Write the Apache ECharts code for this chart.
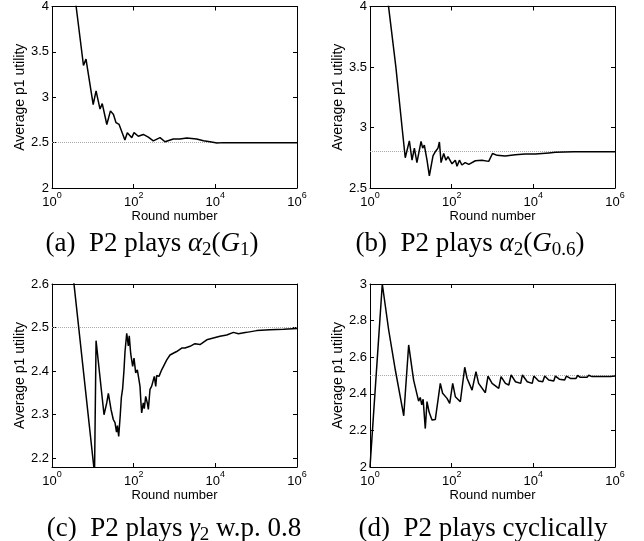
<!DOCTYPE html>
<html>
<head>
<meta charset="utf-8">
<script src="https://cdn.jsdelivr.net/npm/echarts@6/dist/echarts.min.js"></script>
<style>
  html, body { margin: 0; padding: 0; background: #fff; }
  #chart { width: 644px; height: 541px; }
</style>
</head>
<body>
<div id="chart"></div>
<script>
// (a) P2 plays alpha2(G1)
var roundsA = [2, 3, 3.9, 5.9, 6.8, 10.2, 12, 15, 17, 22, 27, 32, 37, 44, 48, 61, 70, 90, 102, 130, 172, 228, 303, 442, 586, 933, 1350, 2000, 3470, 5130, 7400, 11000, 15500, 30000, 100000, 1000000];
var utilA = [5.2, 4.4, 4.0, 3.35, 3.42, 2.92, 3.07, 2.87, 2.93, 2.70, 2.85, 2.81, 2.72, 2.70, 2.72, 2.53, 2.61, 2.555, 2.61, 2.57, 2.59, 2.56, 2.52, 2.555, 2.51, 2.54, 2.54, 2.55, 2.54, 2.52, 2.51, 2.495, 2.50, 2.50, 2.50, 2.50];
// (b) P2 plays alpha2(G0.6)
var roundsB = [2, 2.8, 4.3, 6.1, 7.3, 9.2, 10.7, 12.2, 14.1, 17.8, 19.5, 21.4, 24.9, 28.4, 34.9, 39.8, 46.2, 50.1, 55, 63.8, 72.4, 81.3, 102, 123, 135, 155, 178, 214, 263, 380, 550, 807, 1000, 1300, 2040, 3630, 6310, 11200, 24000, 34700, 100000, 1000000];
var utilB = [4.6, 4.02, 3.5, 3.0, 2.75, 2.89, 2.73, 2.83, 2.71, 2.885, 2.83, 2.855, 2.73, 2.60, 2.765, 2.80, 2.83, 2.88, 2.71, 2.785, 2.73, 2.76, 2.70, 2.73, 2.68, 2.73, 2.69, 2.71, 2.695, 2.725, 2.73, 2.72, 2.785, 2.77, 2.765, 2.775, 2.78, 2.78, 2.79, 2.795, 2.80, 2.80];
// (c) P2 plays gamma2 w.p. 0.8
var roundsC = [3, 11, 12, 18.8, 21.9, 24, 27.9, 31.7, 34.9, 38, 40, 43, 47, 50, 53.7, 58, 61.4, 67.6, 74, 78, 84.6, 94.6, 102, 112, 123, 135, 143, 151, 157, 172, 182, 197, 216, 229, 251, 275, 320, 347, 366, 417, 486, 646, 776, 933, 1130, 1500, 1810, 2400, 3170, 4220, 6170, 8930, 13000, 19000, 27800, 36700, 58500, 103000, 219000, 468000, 1000000];
var utilC = [2.653, 2.165, 2.47, 2.30, 2.327, 2.349, 2.312, 2.289, 2.282, 2.26, 2.275, 2.25, 2.30, 2.34, 2.36, 2.403, 2.445, 2.487, 2.458, 2.481, 2.44, 2.411, 2.43, 2.396, 2.403, 2.38, 2.365, 2.327, 2.304, 2.327, 2.314, 2.342, 2.327, 2.312, 2.358, 2.365, 2.388, 2.365, 2.39, 2.388, 2.403, 2.426, 2.437, 2.441, 2.445, 2.453, 2.453, 2.457, 2.463, 2.461, 2.472, 2.476, 2.48, 2.483, 2.489, 2.486, 2.489, 2.493, 2.495, 2.496, 2.498];
// (d) P2 plays cyclically
var roundsD = [1, 2, 2.86, 4.17, 5.5, 6.7, 8.85, 11.7, 15.5, 17, 18.5, 20, 22.6, 24.9, 28, 33, 39.8, 52.7, 60, 77, 89.5, 106, 123, 163, 180, 209, 238, 316, 347, 394, 457, 667, 776, 977, 1420, 1620, 2070, 2510, 2860, 3650, 4900, 5400, 7100, 9400, 10300, 13500, 17000, 19000, 23800, 31600, 34700, 43300, 58500, 64500, 81000, 111000, 122000, 141000, 207000, 227000, 274000, 400000, 445000, 540000, 780000, 850000, 1000000];
var utilD = [2.0, 3.0, 2.75, 2.53, 2.384, 2.28, 2.667, 2.475, 2.36, 2.38, 2.34, 2.37, 2.21, 2.357, 2.30, 2.257, 2.26, 2.457, 2.403, 2.375, 2.348, 2.457, 2.384, 2.357, 2.357, 2.545, 2.485, 2.42, 2.41, 2.521, 2.457, 2.406, 2.497, 2.457, 2.43, 2.494, 2.457, 2.448, 2.503, 2.466, 2.457, 2.503, 2.466, 2.457, 2.497, 2.47, 2.466, 2.497, 2.475, 2.47, 2.497, 2.48, 2.475, 2.497, 2.484, 2.484, 2.501, 2.49, 2.49, 2.501, 2.494, 2.494, 2.503, 2.494, 2.494, 2.501, 2.497];

var refLines = [2.5, 2.8, 2.5, 2.5];
var yRanges = [[2, 4], [2.5, 4], [2.18, 2.6], [2, 3]];
var yTicksA = [2, 2.5, 3, 3.5, 4];
var yTicksB = [2.5, 3, 3.5, 4];
var yTicksC = [2.2, 2.3, 2.4, 2.5, 2.6];
var yTicksD = [2, 2.2, 2.4, 2.6, 2.8, 3];
var captions = [
  '{n|(a)  P2 plays }{i|α}{s|2}{n|(}{i|G}{s|1}{n|)}',
  '{n|(b)  P2 plays }{i|α}{s|2}{n|(}{i|G}{s|0.6}{n|)}',
  '{n|(c)  P2 plays }{i|γ}{s|2}{n| w.p. 0.8}',
  '{n|(d)  P2 plays cyclically}'
];

var chart = echarts.init(document.getElementById('chart'), null, {renderer: 'canvas'});

var grids = [
  {left: 52, top: 3, width: 245, height: 185},
  {left: 370, top: 1, width: 245, height: 187},
  {left: 52, top: 284, width: 245, height: 183},
  {left: 370, top: 284, width: 245, height: 183}
];
var capPos = [[152, 244], [470, 244], [174, 529], [483, 529]];
var sans = 'Liberation Sans';
var serif = 'Liberation Serif';
var black = '#000';

var xAxes = [], yAxes = [], series = [], graphics = [];
var allRounds = [roundsA, roundsB, roundsC, roundsD];
var allUtil = [utilA, utilB, utilC, utilD];
var allYTicks = [yTicksA, yTicksB, yTicksC, yTicksD];

function xLabel(v) {
  var e = Math.round(Math.log10(v));
  return '{b|10}{s|' + e + '}';
}

for (var i = 0; i < 4; i++) {
  var axisBase = {
    gridIndex: i,
    axisLine: {show: true, onZero: false, lineStyle: {color: black, width: 1}},
    axisTick: {show: true, inside: true, length: 4, lineStyle: {color: black}},
    splitLine: {show: false}
  };
  // bottom x (labelled) + top x (ticks only)
  xAxes.push(Object.assign({}, axisBase, {
    type: 'log', logBase: 10, min: 1, max: 1000000, interval: 2,
    position: 'bottom',
    name: 'Round number', nameLocation: 'middle', nameGap: 20,
    nameTextStyle: {fontFamily: sans, fontSize: 13, color: black},
    axisLabel: {
      formatter: xLabel, margin: 3, color: black,
      rich: {
        b: {fontFamily: sans, fontSize: 13, lineHeight: 23, color: black},
        s: {fontFamily: sans, fontSize: 9, lineHeight: 9, verticalAlign: 'top', color: black}
      }
    }
  }));
  xAxes.push(Object.assign({}, axisBase, {
    type: 'log', logBase: 10, min: 1, max: 1000000, interval: 2,
    position: 'top', axisLabel: {show: false}
  }));
  var yr = yRanges[i];
  var ticks = allYTicks[i];
  yAxes.push(Object.assign({}, axisBase, {
    type: 'value', min: yr[0], max: yr[1],
    position: 'left',
    name: 'Average p1 utility', nameLocation: 'middle', nameGap: 23, nameRotate: 90,
    nameTextStyle: {fontFamily: sans, fontSize: 14, color: black},
    axisTick: {show: true, inside: true, length: 4, lineStyle: {color: black}, customValues: ticks},
    axisLabel: {customValues: ticks, margin: 3, color: black, fontFamily: sans, fontSize: 13,
      formatter: function (v) { return String(+v.toFixed(2)); }}
  }));
  yAxes.push(Object.assign({}, axisBase, {
    type: 'value', min: yr[0], max: yr[1],
    position: 'right',
    axisTick: {show: true, inside: true, length: 4, lineStyle: {color: black}, customValues: ticks},
    axisLabel: {show: false}
  }));

  var pts = [];
  for (var j = 0; j < allRounds[i].length; j++) pts.push([allRounds[i][j], allUtil[i][j]]);
  series.push({
    type: 'line',
    xAxisIndex: 2 * i,
    yAxisIndex: 2 * i,
    data: pts,
    showSymbol: false,
    symbol: 'none',
    clip: true,
    animation: false,
    z: 3,
    lineStyle: {color: black, width: 1.5},
    markLine: {
      silent: true,
      symbol: ['none', 'none'],
      label: {show: false},
      z: 2,
      lineStyle: {type: 'dotted', color: '#aaa', width: 1},
      data: [{yAxis: refLines[i]}]
    }
  });

  graphics.push({
    type: 'text',
    x: capPos[i][0],
    y: capPos[i][1],
    style: {
      text: captions[i],
      align: 'center',
      verticalAlign: 'middle',
      rich: {
        n: {fontFamily: serif, fontSize: 27, lineHeight: 32, fill: black},
        i: {fontFamily: serif, fontStyle: 'italic', fontSize: 27, lineHeight: 32, fill: black},
        s: {fontFamily: serif, fontSize: 19, lineHeight: 19, verticalAlign: 'bottom', fill: black}
      }
    }
  });
}

chart.setOption({
  backgroundColor: '#fff',
  animation: false,
  grid: grids,
  xAxis: xAxes,
  yAxis: yAxes,
  series: series,
  graphic: graphics
});
</script>
</body>
</html>
